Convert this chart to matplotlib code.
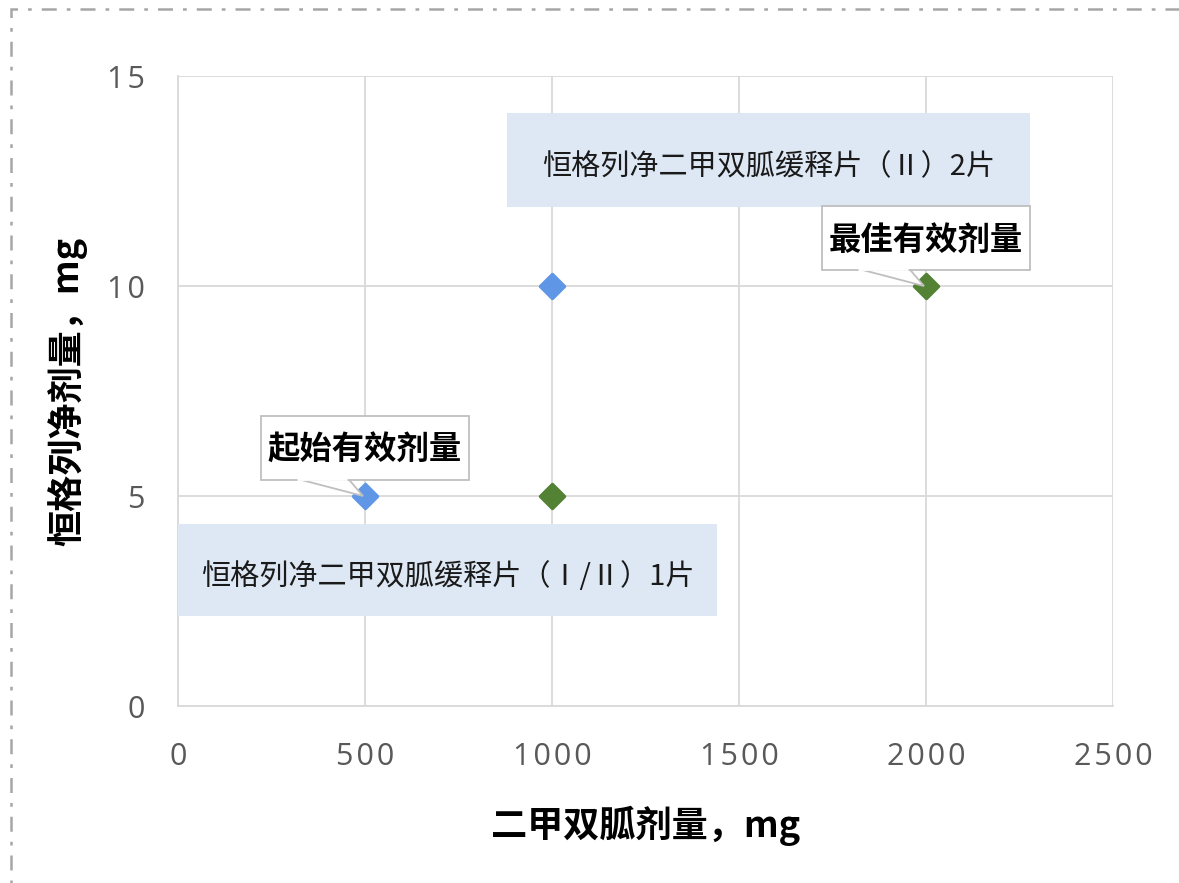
import matplotlib
matplotlib.use("Agg")
import matplotlib.pyplot as plt
from matplotlib.patches import Rectangle, Polygon
from matplotlib._enums import JoinStyle

plt.rcParams['font.family'] = ['Noto Sans CJK SC', 'DejaVu Sans']

# data
metformin_blue = [500, 1000]
empa_blue = [5, 10]
metformin_green = [1000, 2000]
empa_green = [5, 10]
x_ticks = [0, 500, 1000, 1500, 2000, 2500]
y_ticks = [0, 5, 10, 15]
x_label = "二甲双胍剂量，mg"
y_label = "恒格列净剂量，mg"
label_box1 = "恒格列净二甲双胍缓释片（Ⅰ/Ⅱ）1片"
label_box2 = "恒格列净二甲双胍缓释片（Ⅱ）2片"
callout_start = "起始有效剂量"
callout_best = "最佳有效剂量"

W, H = 1179, 883
fig = plt.figure(figsize=(W/100, H/100), dpi=100)
ax = fig.add_axes([178/W, 1-706/H, (1113-178)/W, (706-76)/H])

ax.set_xlim(0, 2500)
ax.set_ylim(0, 15)
ax.set_xticks(x_ticks)
ax.set_yticks(y_ticks)
spaced = lambda v: "\u200a".join(str(v))
ax.set_xticklabels([spaced(t) for t in x_ticks])
ax.set_yticklabels([spaced(t) for t in y_ticks])
ax.grid(True, color='#D9D9D9', lw=1.3)
ax.set_axisbelow(True)
for s in ['top', 'right']:
    ax.spines[s].set_visible(False)
ax.spines['left'].set_color('#D9D9D9')
ax.spines['bottom'].set_color('#D9D9D9')
ax.spines['left'].set_linewidth(1.3)
ax.spines['bottom'].set_linewidth(1.3)
ax.tick_params(length=0, labelsize=22, labelcolor='#595959')
ax.tick_params(axis='x', pad=26)
ax.tick_params(axis='y', pad=24)
for lab in ax.get_xticklabels() + ax.get_yticklabels():
    lab.set_fontfamily(['Open Sans', 'DejaVu Sans'])

ax.set_xlabel(x_label, fontsize=26, fontweight='bold', labelpad=24)
ax.set_ylabel(y_label, fontsize=26, fontweight='bold', labelpad=14)

blue = '#5F97E6'
green = '#548235'
ax.plot(metformin_blue, empa_blue, ls='none', marker='D', ms=12.5, color=blue,
        mec=blue, mew=2.5, zorder=5)
ax.plot(metformin_green, empa_green, ls='none', marker='D', ms=12.5, color=green,
        mec=green, mew=2.5, zorder=5)
for ln in ax.lines:
    ln._marker._joinstyle = JoinStyle.round

# light blue label boxes (axes-fraction placement)
def axfrac(px, py):
    return ((px-178)/(1113-178), (706-py)/(706-76))

def blue_box(x0, y0, x1, y1, text, text_dy=7):
    a0 = axfrac(x0, y1)
    a1 = axfrac(x1, y0)
    ax.add_patch(Rectangle(a0, a1[0]-a0[0], a1[1]-a0[1], transform=ax.transAxes,
                           facecolor='#DEE8F4', edgecolor='none', zorder=3, clip_on=False))
    tpos = axfrac((x0+x1)/2, (y0+y1)/2 + text_dy)
    ax.text(tpos[0], tpos[1], text, transform=ax.transAxes,
            ha='center', va='center', fontsize=21, color='#1a1a1a', zorder=4)

blue_box(178, 524, 717, 616, label_box1)
blue_box(507, 113, 1030, 207, label_box2)

# callouts
def callout(xd, yd, text, dy=48, w=208, h=63, base=(-69, -17)):
    px, py = ax.transData.transform((xd, yd))
    cx, cy = px, py + dy
    bottom = cy - h/2
    tri = [(px + base[0], bottom + 1), (px - 2, py), (px + base[1], bottom + 1)]
    inv = fig.transFigure.inverted()
    tri_f = [inv.transform(p) for p in tri]
    fig.patches.append(Polygon(tri_f, closed=False, transform=fig.transFigure,
                               facecolor='white', edgecolor='#BFBFBF', lw=1.3, zorder=6))
    x0f, y0f = inv.transform((cx - w/2, bottom))
    x1f, y1f = inv.transform((cx + w/2, bottom + h))
    fig.patches.append(Rectangle((x0f, y0f), x1f-x0f, y1f-y0f, transform=fig.transFigure,
                                 facecolor='white', edgecolor='#BFBFBF', lw=1.3, zorder=7))
    fig.patches.append(Polygon([inv.transform((px + base[0] + 1, bottom + 0.5)),
                                inv.transform((px + base[1] - 1, bottom + 0.5))],
                               closed=False, transform=fig.transFigure,
                               edgecolor='white', lw=2, zorder=8))
    tx, ty = inv.transform((cx, cy - 2))
    fig.text(tx, ty, text, ha='center', va='center', fontsize=23.3, fontweight='bold',
             color='black', zorder=9)

callout(metformin_blue[0], empa_blue[0], callout_start)
callout(metformin_green[1], empa_green[1], callout_best)

# outer dash-dot border
fig.patches.append(Rectangle((11/W, -0.05), 1.2, (H-9)/H + 0.05, transform=fig.transFigure,
                             fill=False, edgecolor='#A6A6A6', lw=1.8,
                             linestyle=(0, (6, 4, 1.5, 4))))

fig.savefig('out.png', dpi=100)
